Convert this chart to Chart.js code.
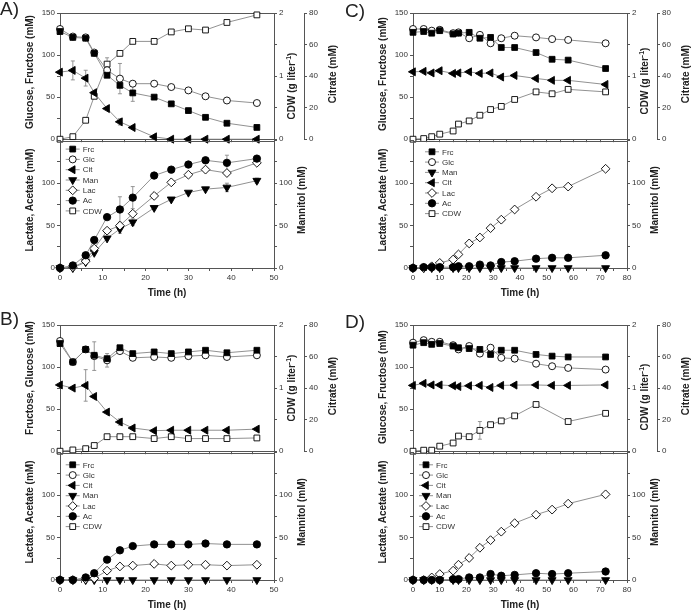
<!DOCTYPE html>
<html>
<head>
<meta charset="utf-8">
<script src="https://cdn.jsdelivr.net/npm/chart.js@4.4.1/dist/chart.umd.min.js"></script>
<style>
  body { margin: 0; background: #fff; }
  #wrap { position: relative; width: 691px; height: 612px; overflow: hidden; font-family: "Liberation Sans", Arial, sans-serif; color: #222; }
  canvas { position: absolute; }
  .ttl { position: absolute; white-space: nowrap; font-weight: bold; font-size: 10px; line-height: 1; transform: translate(-50%, -50%) rotate(-90deg); }
  .hx { position: absolute; white-space: nowrap; font-weight: bold; font-size: 10px; line-height: 1; transform: translate(-50%, -50%); }
  .pl { position: absolute; font-size: 19px; line-height: 1; }
  sup { font-size: 7px; vertical-align: 4px; line-height: 0; }
</style>
</head>
<body>
<div id="wrap"></div>
<script>
// sampling times (h)
const timeAB = [0, 3, 6, 8, 11, 14, 17, 22, 26, 30, 34, 39, 46];
const timeCD = [0, 4, 7, 10, 15, 17, 21, 25, 29, 33, 38, 46, 52, 58, 72];

// A)
const frcA = [128, 121, 120, 102, 76, 64, 55, 50, 42, 34, 26, 19, 14];
const glcA = [131, 122, 121, 103, 82, 72, 66, 66, 62, 58, 51, 46, 43];
const citA = [42.5, 43.6, 38.7, 29.5, 19.4, 11, 7.4, 1.5, 0, 0, 0, 0, 0];
const cdwA = [0, 0.04, 0.3, 0.68, 1.19, 1.36, 1.55, 1.55, 1.7, 1.75, 1.73, 1.85, 1.97];
const manA = [0, 0, 7, 18, 35, 46, 54, 71, 81, 89, 93, 95, 103];
const lacA = [0, 1, 8, 23, 44, 50, 64, 85, 101, 110, 116, 112, 124];
const acA = [0, 3, 15, 33, 60, 69, 83, 109, 116, 122, 127, 124, 129];
const glcAErr = [0, 0, 0, 0, 0, 18, 0, 0, 0, 0, 0, 0, 0];
const frcAErr = [0, 0, 0, 0, 0, 0, 10, 0, 0, 0, 0, 0, 0];
const cdwAErr = [0, 0, 0, 0, 0.1, 0, 0, 0, 0, 0, 0, 0, 0];
const citAErr = [0, 6, 5, 0, 0, 2, 0, 0, 0, 0, 0, 0, 0];
const acAErr = [0, 0, 0, 0, 0, 15, 13, 0, 0, 0, 0, 9, 3];
const manAErr = [0, 0, 0, 0, 0, 5, 4, 0, 0, 0, 0, 5, 3];

// B)
const frcB = [128, 106, 121, 114, 110, 123, 116, 118, 116, 118, 120, 117, 120];
const glcB = [131, 106, 121, 113, 108, 119, 111, 112, 111, 113, 114, 112, 114];
const citB = [42, 40, 41.7, 34.7, 24.8, 18.5, 14.7, 13, 13.3, 13.3, 13.3, 13.3, 14];
const cdwB = [0, 0.02, 0.04, 0.09, 0.23, 0.23, 0.23, 0.2, 0.23, 0.2, 0.2, 0.2, 0.21];
const manB = [0, 0, 0, 0, 0, 0, 0, 0, 0, 0, 0, 0, 0];
const lacB = [0, 0, 1, 2, 11, 16, 17, 19, 17, 18, 18, 17, 18];
const acB = [0, 0, 3, 8, 24, 35, 40, 42, 42, 42, 43, 42, 42];
const glcBErr = [0, 0, 0, 17, 8, 0, 0, 0, 0, 0, 0, 0, 0];
const citBErr = [0, 0, 10, 0, 0, 2, 0, 0, 0, 0, 0, 0, 0];
const acBErr = [0, 0, 0, 0, 0, 0, 0, 3, 0, 0, 0, 0, 0];

// C)
const frcC = [127, 128, 126, 129, 125, 126, 127, 120, 121, 109, 109, 103, 95, 94, 84];
const glcC = [131, 131, 129, 130, 126, 127, 120, 124, 114, 120, 123, 121, 119, 118, 114];
const citC = [42.7, 43, 42, 43.4, 41.7, 42, 42.7, 41.7, 42, 39.4, 40.4, 38.5, 37.3, 37.3, 34.7];
const cdwC = [0, 0.01, 0.04, 0.08, 0.13, 0.24, 0.29, 0.38, 0.47, 0.52, 0.63, 0.75, 0.72, 0.79, 0.75];
const manC = [0, 0, 0, 0, 0, 0, 0, 0, 0, 0, 0, 0, 0, 0, 0];
const lacC = [0, 0, 2, 6, 10, 16, 29, 36, 47, 57, 69, 84, 94, 96, 117];
const acC = [0, 1, 1, 1, 1, 2, 2, 4, 3, 7, 8, 11, 12, 12, 15];

// D)
const frcD = [126, 129, 127, 128, 125, 123, 122, 121, 115, 120, 120, 115, 113, 112, 112];
const glcD = [129, 132, 130, 130, 126, 121, 125, 116, 123, 111, 110, 104, 101, 99, 97];
const citD = [41.7, 43, 42, 42, 41.5, 41, 41.5, 41.7, 40.4, 41.7, 41.9, 42, 41.7, 41.7, 42];
const cdwD = [0, 0.016, 0.016, 0.08, 0.13, 0.24, 0.23, 0.33, 0.42, 0.48, 0.56, 0.74, null, 0.47, 0.6];
const manD = [0, 0, 0, 0, 0, 0, 0, 0, 0, 0, 0, 0, 0, 0, 0];
const lacD = [0, 0, 3, 7, 11, 18, 26, 38, 47, 57, 67, 77, 83, 90, 101];
const acD = [0, 0, 0, 0, 1, 1, 3, 3, 7, 5, 6, 8, 7, 8, 10];
const cdwDErr = [0, 0, 0, 0, 0, 0, 0, 0.14, 0, 0, 0, 0, 0, 0, 0];

const LINE = '#858585';
const AXIS = '#555';
const TXT = '#333';
const FONT = '"Liberation Sans", Arial, sans-serif';

const marker = {
  Frc: { style: 'rect', r: 4.1, rot: 0, fill: '#000' },
  Glc: { style: 'circle', r: 3.5, rot: 0, fill: '#fff' },
  Cit: { style: 'triangle', r: 4.6, rot: -90, fill: '#000' },
  Man: { style: 'triangle', r: 4.6, rot: 180, fill: '#000' },
  Lac: { style: 'rectRot', r: 4.4, rot: 0, fill: '#fff' },
  Ac: { style: 'circle', r: 3.7, rot: 0, fill: '#000' },
  CDW: { style: 'rect', r: 4.1, rot: 0, fill: '#fff' }
};

const wrap = document.getElementById('wrap');

function series(name, xs, ys, axis, err) {
  const m = marker[name];
  return {
    label: name,
    data: xs.map((x, i) => ({ x: x, y: ys[i] })),
    yAxisID: axis,
    errors: err || null,
    borderColor: LINE,
    borderWidth: 0.9,
    pointStyle: m.style,
    pointRadius: m.r,
    pointHoverRadius: m.r,
    pointRotation: m.rot,
    pointBackgroundColor: m.fill,
    pointBorderColor: '#000',
    pointBorderWidth: 0.9,
    spanGaps: true,
    clip: false,
    tension: 0
  };
}

// error bars, drawn under the markers
const errorBars = {
  id: 'errorBars',
  beforeDatasetsDraw(chart) {
    const ctx = chart.ctx;
    ctx.save();
    ctx.strokeStyle = '#8a8a8a';
    ctx.lineWidth = 0.9;
    chart.data.datasets.forEach(ds => {
      if (!ds.errors) return;
      const sx = chart.scales.x, sy = chart.scales[ds.yAxisID];
      ds.data.forEach((p, i) => {
        const e = ds.errors[i];
        if (!e || p.y == null) return;
        const x = sx.getPixelForValue(p.x);
        const y1 = sy.getPixelForValue(p.y - e), y2 = sy.getPixelForValue(p.y + e);
        ctx.beginPath();
        ctx.moveTo(x, y1); ctx.lineTo(x, y2);
        ctx.moveTo(x - 2, y1); ctx.lineTo(x + 2, y1);
        ctx.moveTo(x - 2, y2); ctx.lineTo(x + 2, y2);
        ctx.stroke();
      });
    });
    ctx.restore();
  }
};

// closed box round the plot area
const frame = {
  id: 'frame',
  beforeDatasetsDraw(chart) {
    const a = chart.chartArea, ctx = chart.ctx;
    ctx.save();
    ctx.strokeStyle = AXIS;
    ctx.lineWidth = 1;
    ctx.strokeRect(Math.round(a.left) + 0.5, Math.round(a.top) + 0.5,
      Math.round(a.right - a.left), Math.round(a.bottom - a.top));
    ctx.restore();
  }
};

function legendPlugin(names, ox, oy) {
  return {
    id: 'boxLegend',
    afterDraw(chart) {
      const ctx = chart.ctx, a = chart.chartArea;
      ctx.save();
      names.forEach((n, i) => {
        const x = a.left + ox, y = a.top + oy + i * 10.3;
        ctx.strokeStyle = LINE;
        ctx.lineWidth = 0.9;
        ctx.beginPath(); ctx.moveTo(x - 7, y); ctx.lineTo(x + 7, y); ctx.stroke();
        const m = marker[n];
        ctx.fillStyle = m.fill;
        ctx.strokeStyle = '#000';
        ctx.lineWidth = 0.9;
        Chart.helpers.drawPoint(ctx, { pointStyle: m.style, radius: m.r, rotation: m.rot, borderWidth: 0.9 }, x, y);
        ctx.fillStyle = TXT;
        ctx.font = '8px ' + FONT;
        ctx.textBaseline = 'middle';
        ctx.fillText(n, x + 10, y + 0.5);
      });
      ctx.restore();
    }
  };
}

function yAxis(pos, max, step, width, labelFn, weight) {
  return {
    type: 'linear', position: pos, min: 0, max: max, weight: weight || 0,
    ticks: { stepSize: step, autoSkip: false, padding: 2, color: TXT, font: { family: FONT, size: 8 }, callback: labelFn },
    grid: { drawOnChartArea: false, tickLength: 3, color: AXIS },
    border: { color: AXIS },
    afterFit: s => { s.width = width; }
  };
}

function xAxis(max, showLabels, height) {
  return {
    type: 'linear', position: 'bottom', min: 0, max: max,
    ticks: { display: showLabels, stepSize: 5, autoSkip: false, maxRotation: 0, padding: 2, color: TXT,
      font: { family: FONT, size: 8 }, callback: v => (v % 10 === 0 ? v : '') },
    grid: { drawOnChartArea: false, tickLength: 3, color: AXIS },
    border: { color: AXIS },
    afterFit: s => { s.height = height; }
  };
}

const baseOpts = {
  responsive: false, animation: false, devicePixelRatio: 1, events: [],
  plugins: { legend: { display: false }, tooltip: { enabled: false } }
};

function makeCanvas(left, top, w, h) {
  const c = document.createElement('canvas');
  c.width = w; c.height = h;
  c.style.left = left + 'px'; c.style.top = top + 'px';
  c.style.width = w + 'px'; c.style.height = h + 'px';
  wrap.appendChild(c);
  return c;
}

function addText(cls, html, x, y) {
  const d = document.createElement('div');
  d.className = cls;
  d.innerHTML = html;
  d.style.left = x + 'px';
  d.style.top = y + 'px';
  wrap.appendChild(d);
}

const W = 338;

function drawPanel(p) {
  // upper plot: sugars, citrate, biomass
  const top = makeCanvas(p.px, p.py, W, 146);
  new Chart(top, {
    type: 'line',
    data: {
      datasets: [
        series('Frc', p.t, p.frc, 'y', p.frcErr),
        series('Glc', p.t, p.glc, 'y', p.glcErr),
        series('Cit', p.t, p.cit, 'cit', p.citErr),
        series('CDW', p.t, p.cdw, 'cdw', p.cdwErr)
      ]
    },
    options: Object.assign({}, baseOpts, {
      layout: { padding: { top: 13, left: 0, right: 0, bottom: 0 } },
      scales: {
        x: xAxis(p.xmax, false, 6),
        y: yAxis('left', 150, 25, 60, v => (v % 50 === 0 ? v : '')),
        cdw: yAxis('right', 2, 0.5, 30, v => (v % 1 === 0 ? v : ''), 0),
        cit: yAxis('right', 80, 20, 34, v => v, 1)
      }
    }),
    plugins: [frame, errorBars]
  });

  // lower plot: fermentation products
  const bot = makeCanvas(p.px, p.py + 134, W, 148);
  new Chart(bot, {
    type: 'line',
    data: {
      datasets: [
        series('Ac', p.t, p.ac, 'y', p.acErr),
        series('Lac', p.t, p.lac, 'y', p.lacErr),
        series('Man', p.t, p.man, 'man', p.manErr)
      ]
    },
    options: Object.assign({}, baseOpts, {
      layout: { padding: { top: 6, left: 0, right: 0, bottom: 0 } },
      scales: {
        x: xAxis(p.xmax, true, 14),
        y: yAxis('left', 150, 25, 60, v => (v % 50 === 0 && v < 150 ? v : '')),
        man: yAxis('right', 150, 25, 64, v => (v % 50 === 0 && v < 150 ? v : ''))
      }
    }),
    plugins: [frame, errorBars, legendPlugin(p.legend, p.lx, p.ly)]
  });

  addText('pl', p.key + ')', p.lab[0], p.lab[1]);
  addText('ttl', p.leftTop, p.px + 30, p.py + p.tTop);
  addText('ttl', 'CDW (g liter<sup>-1</sup>)', p.px + 292, p.py + p.tCdw);
  addText('ttl', 'Citrate (mM)', p.px + 333, p.py + 74);
  addText('ttl', 'Lactate, Acetate (mM)', p.px + 30, p.py + 200);
  addText('ttl', 'Mannitol (mM)', p.px + 302, p.py + 200);
  addText('hx', 'Time (h)', p.px + 167, p.py + 293);
}

const order1 = ['Frc', 'Glc', 'Cit', 'Man', 'Lac', 'Ac', 'CDW'];
const order2 = ['Frc', 'Glc', 'Man', 'Cit', 'Lac', 'Ac', 'CDW'];

drawPanel({ key: 'A', px: 0, py: 0, t: timeAB, xmax: 50, leftTop: 'Glucose, Fructose (mM)',
  frc: frcA, glc: glcA, cit: citA, cdw: cdwA, man: manA, lac: lacA, ac: acA,
  frcErr: frcAErr, glcErr: glcAErr, citErr: citAErr, cdwErr: cdwAErr, acErr: acAErr, manErr: manAErr,
  legend: order1, lx: 12.7, ly: 8.3, tTop: 72, tCdw: 86, lab: [0, -1] });

drawPanel({ key: 'B', px: 0, py: 312, t: timeAB, xmax: 50, leftTop: 'Fructose, Glucose (mM)',
  frc: frcB, glc: glcB, cit: citB, cdw: cdwB, man: manB, lac: lacB, ac: acB,
  glcErr: glcBErr, citErr: citBErr, acErr: acBErr,
  legend: order1, lx: 12.7, ly: 12, tTop: 66, tCdw: 76, lab: [0, 309] });

drawPanel({ key: 'C', px: 353, py: 0, t: timeCD, xmax: 80, leftTop: 'Glucose, Fructose (mM)',
  frc: frcC, glc: glcC, cit: citC, cdw: cdwC, man: manC, lac: lacC, ac: acC,
  legend: order2, lx: 19, ly: 11, tTop: 74, tCdw: 81, lab: [345, 1] });

drawPanel({ key: 'D', px: 353, py: 312, t: timeCD, xmax: 80, leftTop: 'Glucose, Fructose (mM)',
  frc: frcD, glc: glcD, cit: citD, cdw: cdwD, man: manD, lac: lacD, ac: acD,
  cdwErr: cdwDErr,
  legend: order1, lx: 13, ly: 12, tTop: 75, tCdw: 85, lab: [345, 312] });
</script>
</body>
</html>
